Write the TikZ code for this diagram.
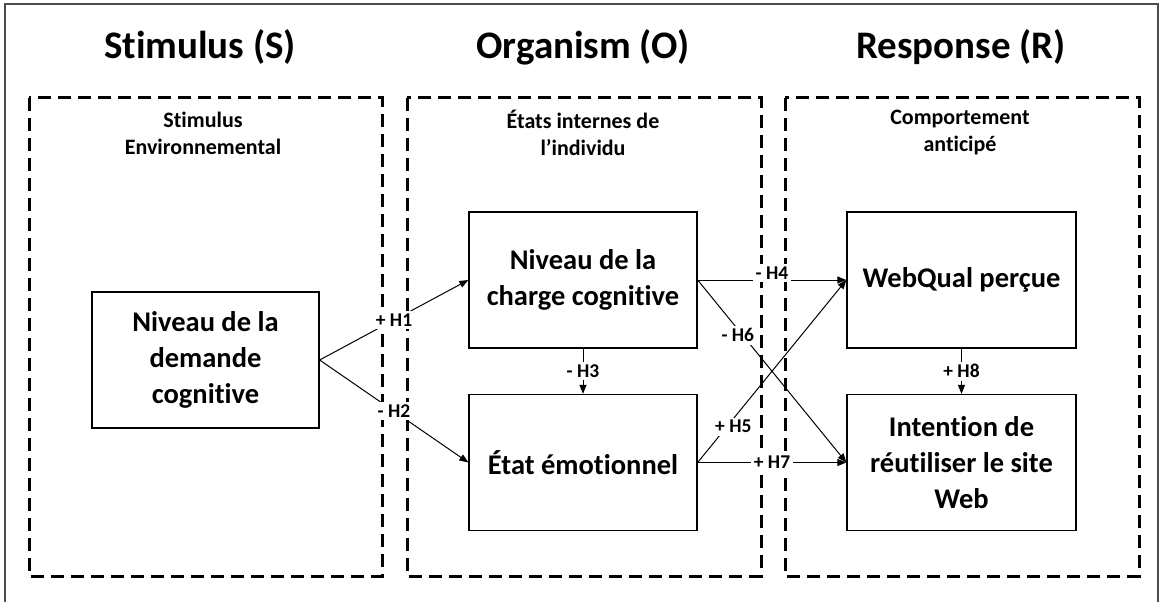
\documentclass[tikz,border=0pt]{standalone}
\usepackage{fontspec}
\setmainfont{Carlito}[Ligatures={NoCommon,NoContextual}]
\usetikzlibrary{arrows.meta}
\begin{document}
\begin{tikzpicture}[x=1pt,y=-1pt,
  title/.style={font=\fontsize{39}{46}\selectfont\bfseries, inner sep=0pt},
  sub/.style={font=\fontsize{22}{27}\selectfont\bfseries, align=center, inner sep=0pt},
  box/.style={draw=black, line width=1.3pt, font=\fontsize{28.5}{36}\selectfont\bfseries, align=center, inner sep=0pt, minimum width=228pt, minimum height=136pt},
  group/.style={draw=black, line width=3pt, dash pattern=on 13pt off 7pt},
  frame/.style={draw=black!70, line width=1.2pt},
  conn/.style={draw=black, line width=1pt, -{Triangle[length=9pt,width=7pt]}},
  lbl/.style={fill=white, font=\fontsize{19.5}{22}\selectfont\bfseries, inner sep=2.5pt}
]
\useasboundingbox (0,0) rectangle (1160,602);
% outer frame (open at the bottom)
\draw[frame] (5,602) -- (5,4) -- (1158,4) -- (1158,602);

% titles
\node[title] (tS) at (200,47) {Stimulus (S)};
\node[title] (tO) at (583,47) {Organism (O)};
\node[title] (tR) at (961,47) {Response (R)};

% dashed groups
\draw[group] (29,98) rectangle (382,576);
\draw[group] (407,98) rectangle (761,576);
\draw[group] (785,98) rectangle (1139,576);

% subtitles
\node[sub] (sS) at (203,133) {Stimulus\\Environnemental};
\node[sub] (sO) at (583,133) {États internes de\\l’individu};
\node[sub] (sR) at (960,133) {Comportement\\anticipé};

% boxes
\node[box, minimum width=227pt] (dem) at (205.5,360) {Niveau de la\\demande\\cognitive};
\node[box] (cha) at (583,280) {Niveau de la\\charge cognitive};
\node[box] (emo) at (583,462.5) {État émotionnel};
\node[box, minimum width=229pt] (web) at (961.5,280) {WebQual perçue};
\node[box, minimum width=229pt] (int) at (961.5,462.5) {Intention de\\réutiliser le site\\Web};

% connectors
\draw[conn] (dem.east) -- node[lbl] {+ H1} (cha.west);
\draw[conn] (dem.east) -- node[lbl] {- H2} (emo.west);
\draw[conn] (cha.south) -- node[lbl] {- H3} (emo.north);
\draw[conn] (cha.east) -- node[lbl, yshift=7pt] {- H4} (web.west);
\draw[conn] (cha.east) -- node[lbl, pos=0.27, yshift=-6pt] {- H6} (int.west);
\draw[conn] (emo.east) -- node[lbl, pos=0.24, yshift=-8pt] {+ H5} (web.west);
\draw[conn] (emo.east) -- node[lbl] {+ H7} (int.west);
\draw[conn] (web.south) -- node[lbl] {+ H8} (int.north);
\end{tikzpicture}
\end{document}
